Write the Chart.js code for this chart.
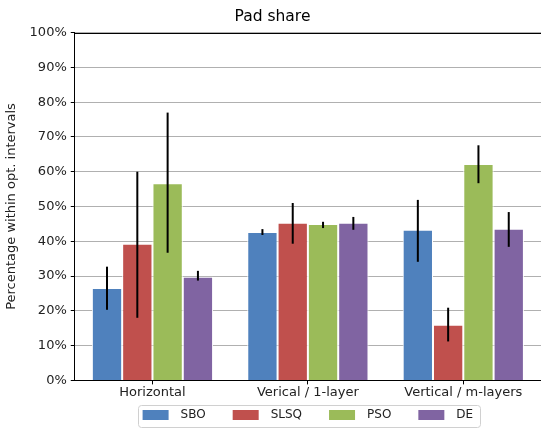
<!DOCTYPE html>
<html lang="en">
<head>
  <meta charset="UTF-8">
  <title>Pad share</title>
  <script src="https://cdn.jsdelivr.net/npm/chart.js"></script>
  <style>
    body { margin: 0; background: #fff; }
    #wrap { width: 541px; height: 428px; }
  </style>
</head>
<body>
  <div id="wrap"><canvas id="padChart" width="541" height="428"></canvas></div>

  <script>
    // Data
    const categories = ['Horizontal', 'Verical / 1-layer', 'Vertical / m-layers'];
    const seriesNames = ['SBO', 'SLSQ', 'PSO', 'DE'];
    const colors = ['#4f81bd', '#c0504d', '#9bbb59', '#8064a2'];

    const sbo  = [26.6, 42.7, 43.3];
    const slsq = [39.3, 45.3, 16.0];
    const pso  = [56.7, 45.0, 62.2];
    const de   = [29.8, 45.3, 43.6];

    // error bar ends (low, high)
    const sboLow  = [20.3, 41.8, 34.1], sboHigh  = [32.7, 43.5, 51.9];
    const slsqLow = [18.0, 39.3, 11.2], slsqHigh = [60.0, 51.0, 20.9];
    const psoLow  = [36.7, 43.8, 56.7], psoHigh  = [77.0, 45.6, 67.6];
    const deLow   = [28.7, 43.3, 38.4], deHigh   = [31.5, 47.0, 48.4];

    const yTicks = [0, 10, 20, 30, 40, 50, 60, 70, 80, 90, 100];

    const values = [sbo, slsq, pso, de];
    const lows = [sboLow, slsqLow, psoLow, deLow];
    const highs = [sboHigh, slsqHigh, psoHigh, deHigh];

    Chart.defaults.font.family = '"DejaVu Sans", sans-serif';
    Chart.defaults.color = '#222';

    // draws the black error bars on top of the bars
    const errorBars = {
      id: 'errorBars',
      afterDatasetsDraw(chart) {
        const ctx = chart.ctx;
        const y = chart.scales.y;
        ctx.save();
        ctx.strokeStyle = '#000';
        ctx.lineWidth = 2;
        chart.data.datasets.forEach((ds, i) => {
          chart.getDatasetMeta(i).data.forEach((bar, j) => {
            ctx.beginPath();
            ctx.moveTo(bar.x, y.getPixelForValue(lows[i][j]));
            ctx.lineTo(bar.x, y.getPixelForValue(highs[i][j]));
            ctx.stroke();
          });
        });
        // top spine
        const a = chart.chartArea;
        ctx.strokeStyle = '#000';
        ctx.lineWidth = 1;
        ctx.beginPath();
        ctx.moveTo(a.left, Math.round(a.top) + 0.5);
        ctx.lineTo(a.right, Math.round(a.top) + 0.5);
        ctx.stroke();
        ctx.restore();
      }
    };

    // centre the legend under the plot area and frame it, like matplotlib
    const legendBox = {
      id: 'legendBox',
      afterLayout(chart) {
        const lg = chart.legend;
        if (!lg) return;
        const a = chart.chartArea;
        const dx = (a.left + a.right) / 2 - (lg.left + lg.right) / 2;
        const dy = 3;
        lg.left += dx;
        lg.right += dx;
        lg.top += dy;
        lg.bottom += dy;
        lg.legendHitBoxes.forEach(h => { h.left += dx; h.top += dy; });
      },
      afterDraw(chart) {
        const lg = chart.legend;
        if (!lg) return;
        const ctx = chart.ctx;
        const items = lg.legendHitBoxes;
        if (!items.length) return;
        const fs = lg.options.labels.font.size;
        const x0 = items[0].left - 5;
        const last = items[items.length - 1];
        const x1 = last.left + last.width + 6;
        const y0 = Math.round(items[0].top - 7);
        const h = fs + 10;
        ctx.save();
        ctx.strokeStyle = '#d0d0d0';
        ctx.lineWidth = 1;
        ctx.beginPath();
        ctx.roundRect(Math.round(x0) + 0.5, y0 + 0.5, Math.round(x1 - x0), h, 3);
        ctx.stroke();
        ctx.restore();
      }
    };

    const ctx = document.getElementById('padChart').getContext('2d');
    new Chart(ctx, {
      type: 'bar',
      data: {
        labels: categories,
        datasets: seriesNames.map((name, i) => ({
          label: name,
          data: values[i],
          backgroundColor: colors[i],
          borderColor: '#ffffff',
          borderWidth: 1,
          barPercentage: 1.0,
          categoryPercentage: 0.78
        }))
      },
      options: {
        responsive: false,
        animation: false,
        layout: { padding: { left: 4, right: 0, top: 4, bottom: 0 } },
        plugins: {
          title: {
            display: true,
            text: 'Pad share',
            font: { size: 15.5, weight: 'normal' },
            color: '#000',
            padding: { top: 4, bottom: 6 }
          },
          legend: {
            position: 'bottom',
            labels: {
              boxWidth: 26,
              boxHeight: 10,
              padding: 6,
              font: { size: 12 },
              color: '#222',
              generateLabels(chart) {
                const items = Chart.defaults.plugins.legend.labels.generateLabels(chart);
                items.forEach((it, k) => {
                  it.text = '\u2002' + it.text + (k < items.length - 1 ? '\u2003\u2002\u2005' : '');
                  it.strokeStyle = it.fillStyle;
                  it.lineWidth = 0;
                });
                return items;
              }
            }
          },
          tooltip: { enabled: false }
        },
        scales: {
          x: {
            grid: {
              display: true,
              offset: false,
              drawOnChartArea: false,
              drawTicks: true,
              tickLength: 4,
              color: '#000'
            },
            border: { display: true, color: '#000', width: 1 },
            ticks: { font: { size: 13 }, color: '#222', padding: 0 }
          },
          y: {
            min: 0,
            max: 100,
            afterBuildTicks(axis) {
              axis.ticks = yTicks.map(v => ({ value: v }));
            },
            grid: {
              color: '#b0b0b0',
              lineWidth: 1,
              tickLength: 4,
              tickColor: '#000'
            },
            border: { display: true, color: '#000', width: 1 },
            ticks: {
              font: { size: 13 },
              color: '#222',
              padding: 4,
              callback: v => v + '%'
            },
            title: {
              display: true,
              text: 'Percentage within opt. intervals',
              font: { size: 13 },
              color: '#222',
              padding: { top: 0, bottom: 6 }
            }
          }
        }
      },
      plugins: [errorBars, legendBox]
    });
  </script>
</body>
</html>
